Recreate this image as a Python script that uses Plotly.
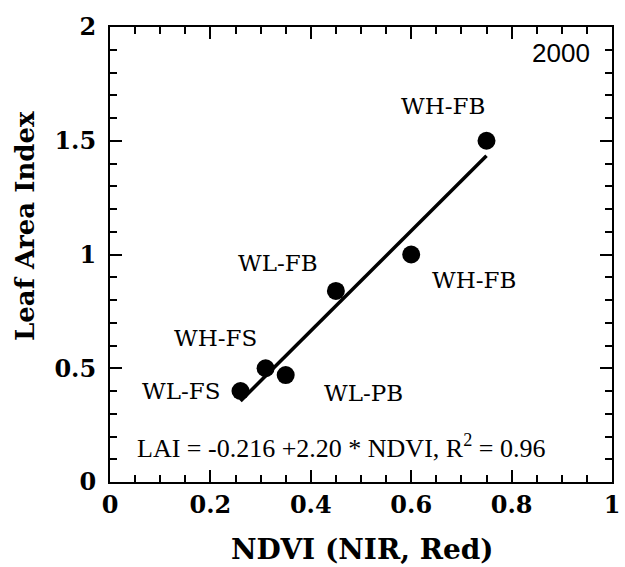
import plotly.graph_objects as go

# Data
ndvi = [0.26, 0.31, 0.35, 0.45, 0.60, 0.75]
lai = [0.40, 0.50, 0.47, 0.84, 1.00, 1.50]
site_labels = ["WL-FS", "WH-FS", "WL-PB", "WL-FB", "WH-FB", "WH-FB"]
fit_intercept = -0.216
fit_slope = 2.20
fit_x = [0.26, 0.75]
year_label = "2000"
equation_text = "LAI = -0.216 +2.20 * NDVI, R<sup>2</sup> = 0.96"
x_title = "NDVI (NIR, Red)"
y_title = "Leaf Area Index"
x_tickvals = [0, 0.2, 0.4, 0.6, 0.8, 1]
x_ticktext = ["0", "0.2", "0.4", "0.6", "0.8", "1"]
y_tickvals = [0, 0.5, 1, 1.5, 2]
y_ticktext = ["0", "0.5", "1", "1.5", "2"]

# label pixel offsets (style)
label_dx = [-60, -50, 78, -58, 63, -44]
label_dy = [0, 30, -18, 28, -25, 35]

fit_y = [fit_intercept + fit_slope * x for x in fit_x]

fig = go.Figure()
fig.add_trace(go.Scatter(x=fit_x, y=fit_y, mode="lines",
                         line=dict(color="black", width=3.5), showlegend=False))
fig.add_trace(go.Scatter(x=ndvi, y=lai, mode="markers",
                         marker=dict(color="black", size=18), showlegend=False))

lab_font = dict(family="DejaVu Serif", size=23, color="black")
for x, y, t, dx, dy in zip(ndvi, lai, site_labels, label_dx, label_dy):
    fig.add_annotation(x=x, y=y, xref="x", yref="y", text=t, showarrow=False,
                       xshift=dx, yshift=dy, font=lab_font,
                       xanchor="center", yanchor="middle")

fig.add_annotation(x=0.46, y=0.154, xref="x", yref="y", text=equation_text,
                   showarrow=False, xanchor="center", yanchor="middle",
                   font=dict(family="Liberation Serif", size=26, color="black"))
fig.add_annotation(x=0.96, y=1.886, xref="x", yref="y", text=year_label,
                   showarrow=False, xanchor="right", yanchor="middle",
                   font=dict(family="Liberation Sans", size=26, color="black"))

title_font = dict(family="DejaVu Serif", size=28, color="black")
fig.add_annotation(x=0.502, y=-0.149, xref="paper", yref="paper",
                   text="<b>" + x_title + "</b>", showarrow=False,
                   xanchor="center", yanchor="middle", font=title_font)
fig.add_annotation(x=-0.169, y=0.563, xref="paper", yref="paper",
                   text="<b>" + y_title + "</b>", showarrow=False, textangle=-90,
                   xanchor="center", yanchor="middle",
                   font=dict(family="DejaVu Serif", size=26, color="black"))

tick_font = dict(family="DejaVu Serif", size=24, color="black")

common = dict(showline=True, linecolor="black", linewidth=2, mirror="ticks",
              ticks="inside", ticklen=12, tickwidth=2, tickcolor="black",
              showgrid=False, zeroline=False, tickfont=tick_font, automargin=False)

fig.update_xaxes(range=[0, 1], tickvals=x_tickvals,
                 ticktext=["<b>" + t + "</b>" for t in x_ticktext],
                 minor=dict(dtick=0.05, ticks="inside", ticklen=7, tickwidth=2, tickcolor="black", showgrid=False),
                 **common)
fig.update_yaxes(range=[0, 2], tickvals=y_tickvals,
                 ticktext=["<b>" + t + "</b>" for t in y_ticktext],
                 ticklabelstandoff=7,
                 minor=dict(dtick=0.1, ticks="inside", ticklen=7, tickwidth=2, tickcolor="black", showgrid=False),
                 **common)

fig.update_layout(width=625, height=567, margin=dict(l=110, r=13, t=27, b=85),
                  plot_bgcolor="white", paper_bgcolor="white")

fig.write_html("out.html")
